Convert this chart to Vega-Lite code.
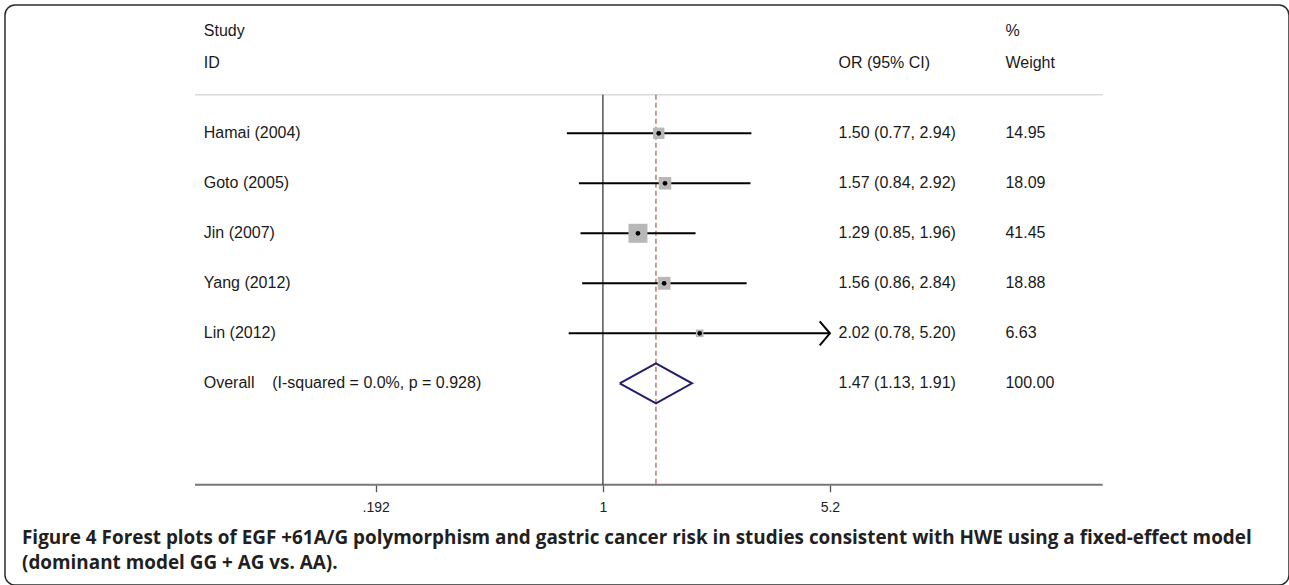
{
  "$schema": "https://vega.github.io/schema/vega-lite/v6.json",
  "width": 1284,
  "height": 580,
  "autosize": {"type": "none"},
  "padding": {"left": 5, "top": 5, "right": 0, "bottom": 0},
  "background": "white",
  "config": {
    "view": {"stroke": "#2b2b2b", "strokeWidth": 1.5, "cornerRadius": 10},
    "font": "Liberation Sans"
  },
  "title": {
    "text": ["Figure 4 Forest plots of EGF +61A/G polymorphism and gastric cancer risk in studies consistent with HWE using a fixed-effect model", "(dominant model GG + AG vs. AA)."],
    "orient": "bottom",
    "anchor": "start",
    "frame": "group",
    "offset": -56,
    "dx": 17,
    "font": "Open Sans",
    "fontSize": 18.9,
    "fontWeight": "bold",
    "color": "#231f20",
    "lineHeight": 25,
    "baseline": "top"
  },
  "datasets": {
    "studies": [
      {"study": "Hamai (2004)", "row": 1, "or": 1.50, "lo": 0.77, "hi": 2.94, "weight": 14.95, "overall": false},
      {"study": "Goto (2005)", "row": 2, "or": 1.57, "lo": 0.84, "hi": 2.92, "weight": 18.09, "overall": false},
      {"study": "Jin (2007)", "row": 3, "or": 1.29, "lo": 0.85, "hi": 1.96, "weight": 41.45, "overall": false},
      {"study": "Yang (2012)", "row": 4, "or": 1.56, "lo": 0.86, "hi": 2.84, "weight": 18.88, "overall": false},
      {"study": "Lin (2012)", "row": 5, "or": 2.02, "lo": 0.78, "hi": 5.20, "weight": 6.63, "overall": false},
      {"study": "Overall\u00a0\u00a0\u00a0 (I-squared = 0.0%, p = 0.928)", "row": 6, "or": 1.47, "lo": 1.13, "hi": 1.91, "weight": 100.00, "overall": true}
    ],
    "diamond": [
      {"v": 1, "or": 1.13, "row": 6},
      {"v": 2, "or": 1.47, "row": 5.6},
      {"v": 3, "or": 1.91, "row": 6},
      {"v": 4, "or": 1.47, "row": 6.4},
      {"v": 5, "or": 1.13, "row": 6}
    ],
    "header": [
      {"row": -1.046, "c1": "Study", "c2": "", "c3": "%"},
      {"row": -0.4, "c1": "ID", "c2": "OR (95% CI)", "c3": "Weight"}
    ]
  },
  "layer": [
    {
      "data": {"values": [{}]},
      "mark": {"type": "rule", "color": "#d9d9d9", "strokeWidth": 1.5},
      "encoding": {
        "x": {"datum": 0.0517, "type": "quantitative", "scale": {"type": "log", "domain": [0.01301, 145.85], "nice": false}, "axis": {
          "values": [0.192, 1, 5.2],
          "labelExpr": "datum.value < 0.5 ? '.192' : format(datum.value, '~g')",
          "domain": false, "grid": false, "title": null,
          "tickColor": "#555555", "tickSize": 7, "tickWidth": 1.3,
          "labelFont": "Liberation Sans", "labelFontSize": 14, "labelColor": "#222222",
          "labelPadding": 9, "offset": -100.3, "labelFlush": false, "labelOverlap": false
        }},
        "x2": {"datum": 37.7},
        "y": {"datum": 0.228, "type": "quantitative", "scale": {"domain": [-1.566, 10.034], "reverse": true, "nice": false, "zero": false}, "axis": null}
      }
    },
    {
      "data": {"values": [{}]},
      "mark": {"type": "rule", "color": "#777777", "strokeWidth": 2},
      "encoding": {
        "x": {"datum": 0.0517, "type": "quantitative", "scale": {"type": "log", "domain": [0.01301, 145.85], "nice": false}},
        "x2": {"datum": 37.7},
        "y": {"datum": 8.028, "type": "quantitative", "scale": {"domain": [-1.566, 10.034], "reverse": true, "nice": false, "zero": false}}
      }
    },
    {
      "data": {"values": [{}]},
      "mark": {"type": "rule", "color": "#3a3a3a", "strokeWidth": 1.3},
      "encoding": {
        "x": {"datum": 1, "type": "quantitative", "scale": {"type": "log", "domain": [0.01301, 145.85], "nice": false}},
        "y": {"datum": 0.228, "type": "quantitative", "scale": {"domain": [-1.566, 10.034], "reverse": true, "nice": false, "zero": false}},
        "y2": {"datum": 8.028}
      }
    },
    {
      "data": {"name": "studies"},
      "transform": [{"filter": "datum.overall"}],
      "mark": {"type": "rule", "color": "#b5504f", "strokeWidth": 1.2, "strokeDash": [5, 3]},
      "encoding": {
        "x": {"field": "or", "type": "quantitative", "scale": {"type": "log", "domain": [0.01301, 145.85], "nice": false}},
        "y": {"datum": 0.228, "type": "quantitative", "scale": {"domain": [-1.566, 10.034], "reverse": true, "nice": false, "zero": false}},
        "y2": {"datum": 8.028}
      }
    },
    {
      "data": {"name": "studies"},
      "transform": [{"filter": "!datum.overall"}],
      "mark": {"type": "rule", "color": "#000000", "strokeWidth": 2},
      "encoding": {
        "x": {"field": "lo", "type": "quantitative", "scale": {"type": "log", "domain": [0.01301, 145.85], "nice": false}},
        "x2": {"field": "hi"},
        "y": {"field": "row", "type": "quantitative", "scale": {"domain": [-1.566, 10.034], "reverse": true, "nice": false, "zero": false}}
      }
    },
    {
      "data": {"name": "studies"},
      "transform": [{"filter": "!datum.overall"}],
      "mark": {"type": "point", "shape": "square", "filled": true, "color": "#b8b8b8", "opacity": 1},
      "encoding": {
        "x": {"field": "or", "type": "quantitative", "scale": {"type": "log", "domain": [0.01301, 145.85], "nice": false}},
        "y": {"field": "row", "type": "quantitative", "scale": {"domain": [-1.566, 10.034], "reverse": true, "nice": false, "zero": false}},
        "size": {"field": "weight", "type": "quantitative", "scale": {"domain": [0, 100], "range": [0, 871]}, "legend": null}
      }
    },
    {
      "data": {"name": "studies"},
      "transform": [{"filter": "!datum.overall"}],
      "mark": {"type": "point", "shape": "circle", "filled": true, "color": "#000000", "opacity": 1, "size": 22},
      "encoding": {
        "x": {"field": "or", "type": "quantitative", "scale": {"type": "log", "domain": [0.01301, 145.85], "nice": false}},
        "y": {"field": "row", "type": "quantitative", "scale": {"domain": [-1.566, 10.034], "reverse": true, "nice": false, "zero": false}}
      }
    },
    {
      "data": {"name": "studies"},
      "transform": [{"filter": "!datum.overall && datum.hi >= 5.2"}],
      "mark": {"type": "point", "shape": "M-0.85,-1L0,0L-0.85,1", "filled": false, "stroke": "#000000", "strokeWidth": 2, "opacity": 1, "size": 576},
      "encoding": {
        "x": {"field": "hi", "type": "quantitative", "scale": {"type": "log", "domain": [0.01301, 145.85], "nice": false}},
        "y": {"field": "row", "type": "quantitative", "scale": {"domain": [-1.566, 10.034], "reverse": true, "nice": false, "zero": false}}
      }
    },
    {
      "data": {"name": "diamond"},
      "mark": {"type": "line", "color": "#1f1f6e", "strokeWidth": 2},
      "encoding": {
        "x": {"field": "or", "type": "quantitative", "scale": {"type": "log", "domain": [0.01301, 145.85], "nice": false}},
        "y": {"field": "row", "type": "quantitative", "scale": {"domain": [-1.566, 10.034], "reverse": true, "nice": false, "zero": false}},
        "order": {"field": "v", "type": "quantitative"}
      }
    },
    {
      "data": {"name": "studies"},
      "mark": {"type": "text", "align": "left", "baseline": "middle", "font": "Liberation Sans", "fontSize": 16, "color": "#1a1a1a"},
      "encoding": {
        "x": {"datum": 0.0551, "type": "quantitative", "scale": {"type": "log", "domain": [0.01301, 145.85], "nice": false}},
        "y": {"field": "row", "type": "quantitative", "scale": {"domain": [-1.566, 10.034], "reverse": true, "nice": false, "zero": false}},
        "text": {"field": "study"}
      }
    },
    {
      "data": {"name": "studies"},
      "transform": [{"calculate": "format(datum.or, '.2f') + ' (' + format(datum.lo, '.2f') + ', ' + format(datum.hi, '.2f') + ')'", "as": "ortext"}],
      "mark": {"type": "text", "align": "left", "baseline": "middle", "font": "Liberation Sans", "fontSize": 16, "color": "#1a1a1a"},
      "encoding": {
        "x": {"datum": 5.534, "type": "quantitative", "scale": {"type": "log", "domain": [0.01301, 145.85], "nice": false}},
        "y": {"field": "row", "type": "quantitative", "scale": {"domain": [-1.566, 10.034], "reverse": true, "nice": false, "zero": false}},
        "text": {"field": "ortext"}
      }
    },
    {
      "data": {"name": "studies"},
      "transform": [{"calculate": "format(datum.weight, '.2f')", "as": "wtext"}],
      "mark": {"type": "text", "align": "left", "baseline": "middle", "font": "Liberation Sans", "fontSize": 16, "color": "#1a1a1a"},
      "encoding": {
        "x": {"datum": 18.6, "type": "quantitative", "scale": {"type": "log", "domain": [0.01301, 145.85], "nice": false}},
        "y": {"field": "row", "type": "quantitative", "scale": {"domain": [-1.566, 10.034], "reverse": true, "nice": false, "zero": false}},
        "text": {"field": "wtext"}
      }
    },
    {
      "data": {"name": "header"},
      "mark": {"type": "text", "align": "left", "baseline": "middle", "font": "Liberation Sans", "fontSize": 16, "color": "#1a1a1a"},
      "encoding": {
        "x": {"datum": 0.0551, "type": "quantitative", "scale": {"type": "log", "domain": [0.01301, 145.85], "nice": false}},
        "y": {"field": "row", "type": "quantitative", "scale": {"domain": [-1.566, 10.034], "reverse": true, "nice": false, "zero": false}},
        "text": {"field": "c1"}
      }
    },
    {
      "data": {"name": "header"},
      "mark": {"type": "text", "align": "left", "baseline": "middle", "font": "Liberation Sans", "fontSize": 16, "color": "#1a1a1a"},
      "encoding": {
        "x": {"datum": 5.534, "type": "quantitative", "scale": {"type": "log", "domain": [0.01301, 145.85], "nice": false}},
        "y": {"field": "row", "type": "quantitative", "scale": {"domain": [-1.566, 10.034], "reverse": true, "nice": false, "zero": false}},
        "text": {"field": "c2"}
      }
    },
    {
      "data": {"name": "header"},
      "mark": {"type": "text", "align": "left", "baseline": "middle", "font": "Liberation Sans", "fontSize": 16, "color": "#1a1a1a"},
      "encoding": {
        "x": {"datum": 18.6, "type": "quantitative", "scale": {"type": "log", "domain": [0.01301, 145.85], "nice": false}},
        "y": {"field": "row", "type": "quantitative", "scale": {"domain": [-1.566, 10.034], "reverse": true, "nice": false, "zero": false}},
        "text": {"field": "c3"}
      }
    }
  ]
}
